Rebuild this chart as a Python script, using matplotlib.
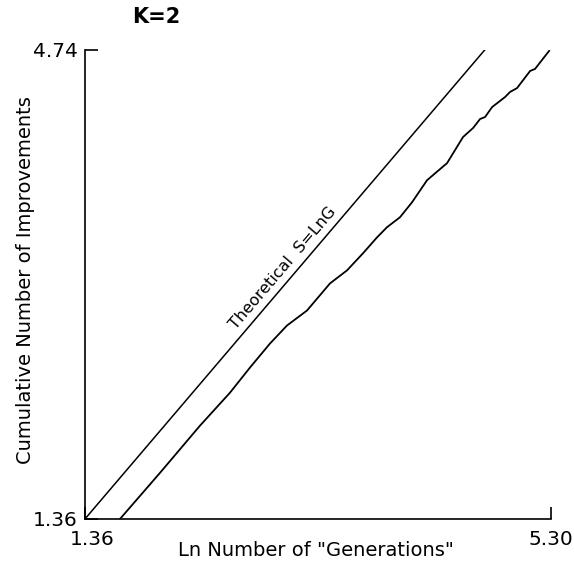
import numpy as np
import matplotlib
matplotlib.use("Agg")
import matplotlib.pyplot as plt
import matplotlib.transforms as mtransforms

plt.rcParams['font.family'] = ['DejaVu Sans']

# axis limits
x_min, x_max = 1.36, 5.30
y_min, y_max = 1.36, 4.74

ln_gen = [1.656, 1.994, 2.332, 2.586, 2.755, 2.924, 3.068, 3.237, 3.431, 3.575,
          3.710, 3.829, 3.913, 4.023, 4.125, 4.252, 4.421, 4.556, 4.641, 4.700,
          4.742, 4.802, 4.911, 4.954, 5.013, 5.123, 5.165, 5.284]
cum_impr = [1.36, 1.692, 2.032, 2.270, 2.451, 2.624, 2.754, 2.862, 3.057, 3.151,
            3.274, 3.389, 3.462, 3.534, 3.642, 3.801, 3.924, 4.112, 4.177, 4.242,
            4.256, 4.328, 4.400, 4.437, 4.465, 4.588, 4.603, 4.733]

# theoretical S = ln G
theo_x = np.array([x_min, y_max])
theo_y = theo_x

fig = plt.figure(figsize=(5.74, 5.70), dpi=100)
ax = fig.add_axes([0.148, 0.0895, 0.812, 0.823])

ax.plot(theo_x, theo_y, color='black', lw=1.1)
ax.plot(ln_gen, cum_impr, color='black', lw=1.3)

ax.set_xlim(x_min, x_max)
ax.set_ylim(y_min, y_max)
ax.set_xticks([x_min, x_max])
ax.set_xticklabels(['1.36', '5.30'])
ax.set_yticks([y_min, y_max])
ax.set_yticklabels(['1.36', '4.74'])
ax.spines['top'].set_visible(False)
ax.spines['right'].set_visible(False)
ax.spines['left'].set_linewidth(1.2)
ax.spines['bottom'].set_linewidth(1.2)
ax.tick_params(direction='in', length=9, width=1.2, labelsize=14.5)
ax.tick_params(axis='x', pad=8)
ax.tick_params(axis='y', pad=5)

# first x tick label sits a bit right of the corner
lbl = ax.get_xticklabels()[0]
lbl.set_transform(lbl.get_transform() + mtransforms.ScaledTranslation(7 / 100, 0, fig.dpi_scale_trans))

ax.set_xlabel('Ln Number of "Generations"', fontsize=14)
ax.set_ylabel('Cumulative Number of Improvements', fontsize=14)
ax.xaxis.set_label_coords(0.496, -0.046)
ax.yaxis.set_label_coords(-0.107, 0.51)

ax.text(3.034, 3.166, 'Theoretical  S=LnG', rotation=49.5, fontsize=11.5,
        ha='center', va='center', rotation_mode='anchor')

fig.text(0.273, 0.970, 'K=2', fontsize=15, fontweight='bold', ha='center', va='center')

fig.savefig('out.png', dpi=100)
